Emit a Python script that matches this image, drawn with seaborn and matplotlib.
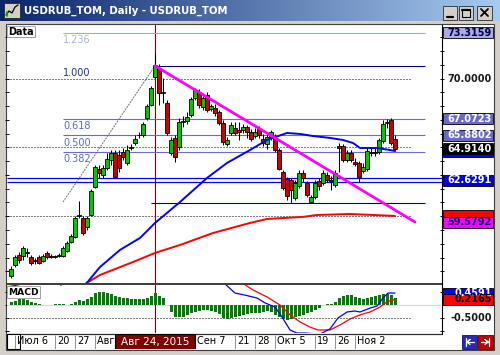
import numpy as np
import matplotlib
matplotlib.use("Agg")
import matplotlib.pyplot as plt
from matplotlib.patches import Rectangle
from matplotlib.colors import LinearSegmentedColormap
import seaborn as sns

sns.set_style("white")
plt.rcParams["font.family"] = ["DejaVu Sans"]

# ---- daily candles, bar 0 = Jul 3 2015 ... bar 96 = Nov 16 2015 ----
open_ = [55.66, 56.46, 57.18, 57.11, 57.40, 57.04, 56.82, 57.04, 56.75, 57.33,
         57.11, 57.07, 57.11, 57.11, 57.47, 58.13, 58.49, 60.02, 59.87, 59.22,
         60.09, 62.12, 63.43, 63.00, 63.51, 64.09, 64.60, 64.45, 64.67, 63.87,
         64.96, 65.32, 65.87, 65.90, 67.14, 68.08, 70.12, 70.77, 69.03, 68.23,
         64.60, 65.69, 65.03, 66.85, 66.92, 67.36, 68.59, 69.03, 67.94, 68.81,
         67.79, 67.87, 67.58, 66.78, 65.25, 66.05, 66.41, 66.27, 66.27, 66.49,
         66.12, 65.83, 66.34, 65.61, 65.25, 65.76, 65.69, 64.81, 63.21, 62.71,
         62.63, 61.33, 62.20, 63.14, 62.42, 61.03, 61.40, 62.56, 62.42, 63.00,
         62.63, 62.27, 65.10, 65.10, 64.09, 64.60, 63.94, 63.87, 63.29, 63.43,
         64.67, 64.67, 64.67, 65.47, 66.78, 66.99, 65.61]
high_ = [56.38, 57.18, 57.40, 57.84, 57.69, 57.18, 56.97, 57.18, 57.26, 57.47,
         57.26, 57.18, 57.33, 57.84, 58.20, 58.71, 60.02, 61.11, 60.02, 60.02,
         61.98, 63.72, 63.72, 63.72, 64.60, 64.81, 64.81, 64.81, 64.96, 65.18,
         65.25, 65.90, 66.12, 66.85, 68.16, 69.46, 71.86, 71.06, 70.05, 68.45,
         65.76, 65.90, 67.14, 67.28, 67.58, 68.67, 69.32, 69.25, 68.74, 69.03,
         68.16, 68.16, 67.72, 66.99, 65.76, 66.85, 66.85, 66.85, 66.70, 66.63,
         66.34, 66.41, 66.56, 65.98, 66.05, 66.27, 65.98, 64.96, 63.36, 62.85,
         62.78, 62.63, 63.36, 63.36, 62.56, 61.54, 62.63, 62.78, 63.36, 63.21,
         62.92, 63.36, 65.32, 65.25, 64.81, 64.81, 64.23, 64.01, 63.87, 64.96,
         64.96, 64.96, 65.69, 66.99, 67.07, 67.14, 65.90]
low_ = [55.51, 56.31, 56.60, 56.82, 57.04, 56.46, 56.53, 56.53, 56.67, 56.89,
        56.97, 56.97, 57.04, 57.04, 57.40, 58.06, 58.42, 59.87, 58.64, 59.00,
        60.02, 62.05, 62.78, 62.78, 63.36, 63.72, 62.78, 63.21, 64.09, 63.72,
        64.81, 65.18, 65.69, 65.76, 66.99, 68.01, 69.97, 68.08, 68.23, 65.90,
        64.45, 63.94, 64.81, 66.49, 66.70, 67.21, 68.45, 67.87, 67.72, 67.58,
        67.65, 67.28, 66.63, 65.18, 65.10, 65.90, 65.90, 65.54, 66.05, 65.69,
        65.47, 65.69, 65.69, 65.10, 64.89, 65.54, 64.67, 63.36, 61.91, 61.18,
        60.96, 61.18, 62.05, 62.49, 61.40, 60.96, 61.25, 61.91, 62.27, 62.49,
        61.91, 62.12, 63.21, 63.94, 63.94, 63.94, 63.65, 62.49, 63.14, 63.29,
        64.38, 64.38, 64.52, 65.32, 66.41, 65.18, 64.74]
close_ = [56.17, 57.04, 56.82, 57.69, 57.36, 56.60, 56.75, 56.60, 57.11, 57.04,
          57.07, 57.11, 57.18, 57.69, 58.06, 58.56, 59.87, 60.09, 58.78, 59.87,
          61.83, 63.58, 63.14, 63.51, 64.16, 64.60, 62.85, 63.51, 64.30, 64.81,
          65.03, 65.61, 65.90, 66.70, 68.01, 69.32, 70.99, 68.96, 68.96, 66.05,
          65.54, 64.30, 66.85, 66.92, 67.21, 68.52, 69.17, 68.08, 68.59, 67.72,
          68.01, 67.50, 66.78, 65.40, 65.54, 66.63, 66.05, 66.12, 66.49, 66.12,
          65.61, 66.12, 65.90, 65.32, 65.76, 66.12, 64.81, 63.43, 62.05, 61.47,
          61.91, 62.42, 63.14, 62.78, 61.54, 61.40, 62.42, 62.20, 63.14, 62.63,
          62.56, 63.14, 64.96, 64.09, 64.60, 64.09, 63.80, 62.85, 63.58, 64.74,
          64.60, 64.63, 65.54, 66.70, 66.85, 65.32, 64.914]

# MACD histogram per bar
macd_hist = [0.10, 0.15, 0.22, 0.22, 0.19, 0.13, 0.06, 0.03, 0.0, 0.0,
             0.0, 0.02, 0.02, 0.02, 0.0, 0.03, 0.13, 0.19, 0.17, 0.22,
             0.32, 0.45, 0.49, 0.49, 0.47, 0.42, 0.35, 0.32, 0.28, 0.26,
             0.23, 0.22, 0.22, 0.23, 0.28, 0.35, 0.45, 0.36, 0.26, 0.0,
             -0.26, -0.45, -0.47, -0.45, -0.38, -0.32, -0.27, -0.22, -0.19, -0.19,
             -0.22, -0.27, -0.35, -0.50, -0.54, -0.50, -0.46, -0.41, -0.37, -0.35,
             -0.31, -0.31, -0.31, -0.27, -0.24, -0.28, -0.37, -0.46, -0.54, -0.56,
             -0.53, -0.46, -0.44, -0.37, -0.31, -0.27, -0.18, -0.12, 0.0, 0.02,
             0.02, 0.13, 0.26, 0.35, 0.38, 0.38, 0.32, 0.26, 0.22, 0.26,
             0.29, 0.35, 0.38, 0.42, 0.42, 0.38, 0.26]

# MACD / signal lines (values above 0.77 are off the top of the panel)
macd_idx = [-1, 1, 3, 10.5, 12.5, 14.5, 52.25, 53.5, 56, 58.5, 61.5, 63.5, 66, 67.75,
            69.75, 71.5, 73.5, 77.25, 79.75, 81.75, 84, 86, 87.25, 89.75, 91.5, 93, 94.25, 96]
macd_line = [0.70, 0.74, 1.2, 1.2, 0.76, 1.2, 0.96, 0.81, 0.46, 0.38, 0.27, 0.08, -0.08, -0.46,
             -0.96, -1.08, -1.08, -1.12, -0.92, -0.50, -0.27, -0.23, -0.27, -0.12, -0.04, 0.27, 0.46, 0.46]
signal_idx = [-1, 2, 4, 55, 56.75, 57.75, 60.5, 64, 67.25, 69.75, 72.25, 74.75, 76.75,
              79.75, 82.25, 84.75, 87.25, 89.75, 92.25, 94, 96]
signal_line = [0.66, 0.78, 1.2, 1.2, 0.96, 0.85, 0.58, 0.31, 0.0, -0.38, -0.65, -0.85, -0.96,
               -0.96, -0.77, -0.54, -0.38, -0.27, -0.08, 0.12, 0.22]

# moving averages
ma_fast_idx = [17.5, 22.25, 27.25, 32.25, 36, 42.25, 49, 54, 59.75, 64, 69, 72.25,
               75.5, 79.75, 83, 85.5, 87.25, 91.5, 94.75, 96]
ma_fast = [54.64, 56.31, 57.55, 58.42, 59.51, 61.03, 62.78, 63.87, 64.81, 65.54, 66.05, 65.98,
           65.83, 65.69, 65.54, 65.32, 64.96, 64.96, 64.81, 64.74]
ma_slow_idx = [17.25, 22.25, 30.5, 36, 42.25, 50.5, 59.75, 64, 73, 76.5, 84.75, 90.5, 96]
ma_slow = [54.86, 55.73, 56.67, 57.33, 57.91, 58.78, 59.51, 59.80, 59.95, 60.09, 60.16, 60.09, 60.02]

# drawn objects
trend_idx = [36, 101]
trend_val = [70.93, 59.5792]
fib_diag_idx = [13, 36]
fib_diag_val = [61.03, 70.93]
fib_names = ["1.236", "1.000", "0.618", "0.500", "0.382"]
fib_prices = [73.3159, 70.931, 67.0723, 65.8802, 64.688]
fib_from = [13, 36, 13, 13, 13]
fib_line_col = ["#A4A4E4", "#000080", "#6A6ACD", "#6A6ACD", "#6A6ACD"]
fib_text_col = ["#A8B0D8", "#1C2C9C", "#5A6AB8", "#5A6AB8", "#5A6AB8"]
base_line = 60.96
hline_level = 62.6291

tick_idx = [1, 11, 16, 21, 46, 56, 61, 66, 76, 81, 86]
tick_txt = ["Июл 6", "20", "27", "Авг 3", "Сен 7", "21", "28", "Окт 5", "19", "26", "Ноя 2"]
cursor_idx = 36
cursor_txt = "Авг 24, 2015"

price_tags = [("73.3159", "#A9A9E8", "#000040"), ("70.0000", None, "#1A1A1A"),
              ("67.0723", "#6A6ACD", "white"), ("65.8802", "#6A6ACD", "white"),
              ("64.7400", "#0000FF", "white"), ("64.9140", "black", "white"),
              ("62.6291", "#0000E0", "white"), ("60.0200", "#FF0000", "black"),
              ("59.5792", "#FF00FF", "#000060")]
macd_tags = [("0.4591", "#0000FF", "white"), ("0.2165", "#FF0000", "black"),
             ("-0.5000", None, "#1A1A1A")]

W, H = 500, 355


def box(x0, y0, x1, y1):
    return [x0 / W, 1 - y1 / H, (x1 - x0) / W, (y1 - y0) / H]


fig = plt.figure(figsize=(5, 3.55), dpi=100)
fig.patch.set_facecolor("#D4D0C8")

# window chrome
bg = fig.add_axes([0, 0, 1, 1])
bg.set_zorder(-5)
grad = LinearSegmentedColormap.from_list("title", ["#0A246A", "#A6CAF0"])
bg.imshow(np.linspace(0, 1, 256)[None, :], extent=(0, W, 21, 0), cmap=grad, aspect="auto")
bg.set_xlim(0, W)
bg.set_ylim(H, 0)
bg.axis("off")
bg.text(24, 11, "USDRUB_TOM, Daily - USDRUB_TOM", color="white", weight="bold",
        size=7.3, va="center")
bg.add_patch(Rectangle((4, 3), 16, 15, fc="#D4D0C8", ec="#303030", lw=0.7))
bg.plot([6, 9, 12, 15, 18], [15, 11, 13, 7, 5], color="black", lw=0.9)
bg.plot([7, 7], [16, 12], color="#00A000", lw=1.2)
for x0, x1 in [(443, 457), (459, 473), (477, 492)]:
    bg.add_patch(Rectangle((x0, 6), x1 - x0, 14, fc="#D4D0C8", ec="#404040", lw=0.7))
bg.plot([447, 453], [16.5, 16.5], color="black", lw=1.6)
bg.add_patch(Rectangle((462, 9), 8, 8, fc="none", ec="black", lw=0.8))
bg.plot([462, 470], [9.5, 9.5], color="black", lw=1.5)
bg.plot([481, 488], [9, 16], color="black", lw=1.3)
bg.plot([481, 488], [16, 9], color="black", lw=1.3)

bg.add_patch(Rectangle((6, 24), 488, 326, fc="white", ec="#404040", lw=0.8))
bg.add_patch(Rectangle((7, 283), 435, 2, fc="#404040", lw=0))
bg.plot([7, 442], [333.5, 333.5], color="#303030", lw=0.9)
bg.plot([442, 442], [25, 334], color="black", lw=0.8)
bg.add_patch(Rectangle((7, 334), 13, 15, fc="white", ec="black", lw=0.8, zorder=5))
bg.add_patch(Rectangle((462, 335), 15, 14, fc="#2A2AB4", ec="#101060", lw=0.6))
bg.add_patch(Rectangle((478, 335), 15, 14, fc="#C00000", ec="#600000", lw=0.6))
bg.plot([466, 466], [338, 346], color="white", lw=0.9)
bg.plot([467, 474], [342, 342], color="white", lw=0.9)
bg.plot([467, 470, 467, 470], [342, 339.5, 342, 344.5], color="white", lw=0.9)
bg.plot([489, 489], [338, 346], color="white", lw=0.9)
bg.plot([481, 488], [342, 342], color="white", lw=0.9)
bg.plot([488, 485, 488, 485], [342, 339.5, 342, 344.5], color="white", lw=0.9)

# ---- price panel ----
ax = fig.add_axes(box(7, 25, 442, 283))
ax.set_facecolor("none")
ax.set_xlim(-1, 107.75)
ax.set_ylim(55.147, 73.897)
for s in ax.spines.values():
    s.set_visible(False)
ax.set_xticks([])
ax.set_yticks(range(56, 74))
ax.tick_params(axis="y", left=True, right=True, direction="inout", length=3.5,
               width=0.7, color="black", labelleft=False, labelright=False)

weeks = np.arange(1, 101, 5)
gx, gy = np.meshgrid(weeks, np.arange(56, 74))
ax.scatter(gx.ravel(), gy.ravel(), marker="s", s=0.5, color="black", lw=0, zorder=1)
ax.hlines([60, 65, 70], -1, 100.25, colors="black", linestyles=(0, (1, 2)), lw=0.72, zorder=1)

ax.axvline(cursor_idx, color="#8B0000", lw=0.8, zorder=1.5)
for name, p, i0, lc, tc in zip(fib_names, fib_prices, fib_from, fib_line_col, fib_text_col):
    ax.hlines(p, i0, 103.5, colors=lc, lw=0.8, zorder=1.6)
    ax.text(13, p - 0.18, name, color=tc, size=7, va="top", ha="left", zorder=1.6)
ax.hlines(base_line, 35, 103.5, colors="#000080", lw=0.8, zorder=1.6)
ax.hlines([hline_level + 0.125, hline_level - 0.125], -1, 107.75, colors="#0000FF", lw=0.9, zorder=1.6)
sns.lineplot(x=fib_diag_idx, y=fib_diag_val, ax=ax, color="#707070", lw=0.7,
             linestyle=(0, (2, 1)), zorder=1.7)

idx = np.arange(len(close_))
o = np.array(open_)
c = np.array(close_)
body_col = np.where(c >= o, "#00C800", "#D00000")
ax.vlines(idx, low_, high_, color="black", lw=0.75, zorder=3)
ax.bar(idx, c - o, bottom=o, width=0.8, color=body_col, edgecolor="black", linewidth=0.6, zorder=4)

sns.lineplot(x=ma_slow_idx, y=ma_slow, ax=ax, color="#FF0000", lw=1.4, zorder=5)
sns.lineplot(x=ma_fast_idx, y=ma_fast, ax=ax, color="#0000FF", lw=1.4, zorder=5)
sns.lineplot(x=trend_idx, y=trend_val, ax=ax, color="#FF00FF", lw=2.0, zorder=6)
ax.set_xlabel("")
ax.set_ylabel("")

# ---- MACD panel ----
axm = fig.add_axes(box(7, 285, 442, 333))
axm.set_facecolor("none")
axm.set_xlim(-1, 107.75)
axm.set_ylim(-1.077, 0.769)
for s in axm.spines.values():
    s.set_visible(False)
axm.set_xticks([])
axm.set_yticks([0.5, 0, -0.5, -1.0])
axm.tick_params(axis="y", left=True, right=True, direction="inout", length=3.5,
                width=0.7, color="black", labelleft=False, labelright=False)
mx, my = np.meshgrid(weeks, [0.5, 0, -0.5, -1.0])
axm.scatter(mx.ravel(), my.ravel(), marker="s", s=0.5, color="black", lw=0, zorder=1)
axm.axhline(0, color="#D8D8D8", lw=0.8, zorder=1)
axm.hlines(-0.5, -1, 100.25, colors="black", linestyles=(0, (1, 2)), lw=0.72, zorder=1)
axm.axvline(cursor_idx, color="#8B0000", lw=0.8, zorder=1.5)
axm.bar(idx, macd_hist, width=0.75, color="#008000", lw=0, zorder=3)
sns.lineplot(x=signal_idx, y=signal_line, ax=axm, color="#FF0000", lw=0.9, zorder=4)
sns.lineplot(x=macd_idx, y=macd_line, ax=axm, color="#0000FF", lw=0.9, zorder=4)
axm.set_xlabel("")
axm.set_ylabel("")

# ---- right-hand price scales ----
axp = fig.add_axes(box(442, 25, 494, 283))
axp.set_xlim(0, 52)
axp.set_ylim(ax.get_ylim())
axp.axis("off")
for txt, fc, tc in price_tags:
    v = float(txt)
    if fc is not None:
        axp.add_patch(Rectangle((1, v - 0.4), 50, 0.8, fc=fc, ec="black", lw=0.6))
        if txt in ("64.7400", "60.0200"):
            continue
    axp.text(50, v, txt, color=tc, size=7, weight="bold", ha="right", va="center")

axpm = fig.add_axes(box(442, 285, 494, 333))
axpm.set_xlim(0, 52)
axpm.set_ylim(axm.get_ylim())
axpm.axis("off")
for txt, fc, tc in macd_tags:
    v = float(txt)
    if fc is not None:
        axpm.add_patch(Rectangle((1, v - 0.2), 50, 0.4, fc=fc, ec="black", lw=0.6))
    axpm.text(50, v, txt, color=tc, size=7, weight="bold", ha="right", va="center")

# ---- date scale ----
axd = fig.add_axes(box(7, 334, 442, 349))
axd.set_xlim(-1, 107.75)
axd.set_ylim(1, 0)
axd.axis("off")
for i, t in zip(tick_idx, tick_txt):
    axd.vlines(i, 0.05, 1, colors="#808080", lw=0.6)
    lab = axd.text(i + 0.5, 0.5, t, size=7, va="center", ha="left", color="black")
    if i < cursor_idx < i + 10:
        lab.set_clip_path(Rectangle((-1, 0), cursor_idx - 10 + 1, 1, transform=axd.transData))
axd.add_patch(Rectangle((cursor_idx - 10, 0.0), 20, 1.0, fc="#800000", ec="black", lw=0.8, zorder=5))
axd.text(cursor_idx, 0.5, cursor_txt, size=7.5, color="white", ha="center", va="center", zorder=6)

# ---- panel captions ----
ov = fig.add_axes([0, 0, 1, 1])
ov.set_xlim(0, W)
ov.set_ylim(H, 0)
ov.axis("off")
for x0, y0, x1, y1, t, fs in [(7, 26, 35, 37, "Data", 7), (7, 286, 40, 298, "MACD", 6.6)]:
    ov.add_patch(Rectangle((x0 + 1, y0 + 1), x1 - x0, y1 - y0, fc="#606060", lw=0))
    ov.add_patch(Rectangle((x0, y0), x1 - x0, y1 - y0, fc="white", ec="#A0A0A0", lw=0.6))
    ov.text(x0 + 1.5, (y0 + y1) / 2 + 0.5, t, size=fs, weight="bold", va="center", color="black")

fig.savefig("out.png", dpi=100, facecolor=fig.get_facecolor())
